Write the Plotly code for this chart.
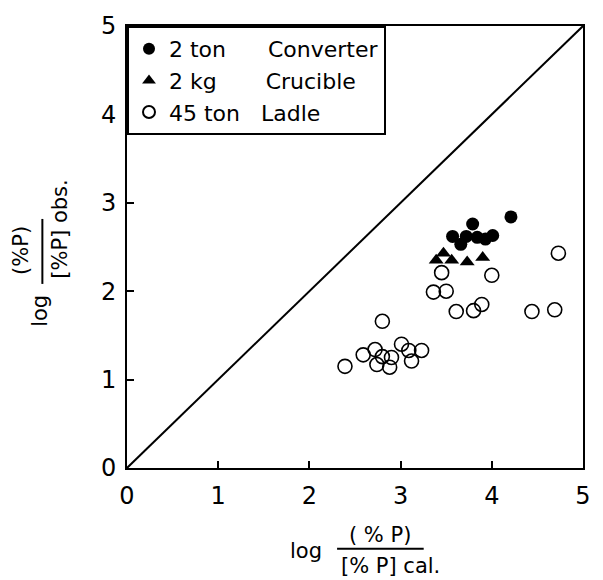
import plotly.graph_objects as go

# ---- data ----
conv_x = [4.21, 3.79, 3.57, 3.66, 3.72, 3.84, 3.93, 4.01]
conv_y = [2.84, 2.76, 2.62, 2.53, 2.62, 2.61, 2.59, 2.63]

cruc_x = [3.39, 3.47, 3.56, 3.73, 3.90]
cruc_y = [2.35, 2.43, 2.35, 2.33, 2.38]

ladle_x = [4.73, 3.45, 4.00, 3.36, 3.50, 3.61, 3.80, 3.89, 4.44, 4.69, 2.80,
           2.39, 2.59, 2.72, 2.80, 2.90, 2.74, 2.88, 3.01, 3.09, 3.23, 3.12]
ladle_y = [2.43, 2.21, 2.18, 1.99, 2.00, 1.77, 1.78, 1.85, 1.77, 1.79, 1.66,
           1.15, 1.28, 1.34, 1.26, 1.25, 1.17, 1.14, 1.40, 1.33, 1.33, 1.21]

diag_x = [0, 5]
diag_y = [0, 5]

tick_vals = [0, 1, 2, 3, 4, 5]
tick_text = ["0", "1", "2", "3", "4", "5"]

FONT = "DejaVu Sans"
W, H = 603, 580
ML, MR, MT, MB = 127, 18, 19, 112
PW, PH = W - ML - MR, H - MT - MB


def px(xp):
    return (xp - ML) / PW


def py(yp):
    return (H - MB - yp) / PH


nb = "\u00a0"
fig = go.Figure()
fig.add_trace(go.Scatter(x=diag_x, y=diag_y, mode="lines",
                         line=dict(color="black", width=2), showlegend=False,
                         hoverinfo="skip"))
fig.add_trace(go.Scatter(x=conv_x, y=conv_y, mode="markers",
                         name="2 ton" + nb * 6 + "Converter",
                         marker=dict(symbol="circle", size=13, color="black")))
fig.add_trace(go.Scatter(x=cruc_x, y=cruc_y, mode="markers",
                         name="2 kg" + nb * 7 + "Crucible",
                         marker=dict(symbol="triangle-up", size=13, color="black")))
fig.add_trace(go.Scatter(x=ladle_x, y=ladle_y, mode="markers",
                         name="45 ton" + nb * 3 + "Ladle",
                         marker=dict(symbol="circle-open", size=14, color="black",
                                     line=dict(width=1.6, color="black"))))

axis_common = dict(range=[0, 5], tickvals=tick_vals, ticktext=tick_text,
                   showgrid=False, zeroline=False, showline=True, mirror=True,
                   linecolor="black", linewidth=2, ticks="inside", ticklen=7,
                   tickwidth=1.5, tickcolor="black",
                   tickfont=dict(family=FONT, size=24, color="black"))

fig.update_layout(
    width=W, height=H,
    margin=dict(l=ML, r=MR, t=MT, b=MB, pad=0),
    paper_bgcolor="white", plot_bgcolor="white",
    xaxis=dict(**axis_common, ticklabelstandoff=5),
    yaxis=dict(**axis_common, ticklabelstandoff=4),
    showlegend=True,
    legend=dict(x=0, y=1, xanchor="left", yanchor="top",
                bordercolor="black", borderwidth=2, bgcolor="white",
                font=dict(family=FONT, size=22, color="black"),
                itemwidth=30, tracegroupgap=0, itemsizing="constant"),
)

tf = dict(family=FONT, size=21, color="black")
ann = []
# x-axis title
ann.append(dict(text="log", x=px(307), y=py(552), xref="paper", yref="paper",
                showarrow=False, font=tf, xanchor="center", yanchor="middle"))
ann.append(dict(text="(" + nb + "%" + nb + "P)", x=px(381), y=py(536),
                xref="paper", yref="paper",
                showarrow=False, font=tf, xanchor="center", yanchor="middle"))
ann.append(dict(text="[%" + nb + "P]" + nb + "cal.", x=px(340), y=py(568),
                xref="paper", yref="paper",
                showarrow=False, font=tf, xanchor="left", yanchor="middle"))
# y-axis title
ann.append(dict(text="log", x=px(40), y=py(308), xref="paper", yref="paper",
                showarrow=False, font=tf, textangle=-90,
                xanchor="center", yanchor="middle"))
ann.append(dict(text="(%P)", x=px(21), y=py(247), xref="paper", yref="paper",
                showarrow=False, font=tf, textangle=-90,
                xanchor="center", yanchor="middle"))
ann.append(dict(text="[%P]" + nb + "obs.", x=px(60), y=py(278), xref="paper",
                yref="paper",
                showarrow=False, font=tf, textangle=-90,
                xanchor="center", yanchor="bottom"))
fig.update_layout(annotations=ann)

fig.add_shape(type="line", xref="paper", yref="paper",
              x0=px(338), x1=px(425), y0=py(550), y1=py(550),
              line=dict(color="black", width=2))
fig.add_shape(type="line", xref="paper", yref="paper",
              x0=px(42), x1=px(42), y0=py(215), y1=py(281),
              line=dict(color="black", width=2))

fig.write_html("out.html")
